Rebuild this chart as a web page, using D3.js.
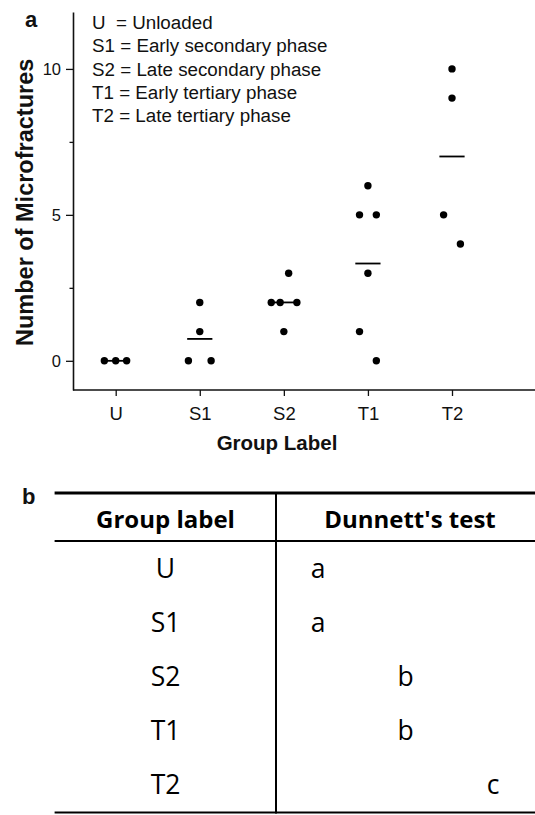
<!DOCTYPE html>
<html>
<head>
<meta charset="utf-8">
<script src="https://cdn.jsdelivr.net/npm/d3@7"></script>
<style>
  html, body { margin: 0; padding: 0; background: #fff; }
  svg { display: block; }
  text { white-space: pre; }
</style>
</head>
<body>
<svg id="chart" width="535" height="815"></svg>
<script>
// ---------------- DATA ----------------
const categories = ["U", "S1", "S2", "T1", "T2"];
const groupValues = [
  [0, 0, 0],
  [2, 1, 0, 0],
  [3, 2, 2, 2, 1],
  [6, 5, 5, 3, 1, 0],
  [10, 9, 5, 4]
];
// horizontal jitter of each point, as a fraction of the category step
const groupJitter = [
  [-0.135, 0, 0.13],
  [0, 0, -0.135, 0.135],
  [0.057, -0.15, -0.044, 0.155, 0],
  [0, -0.1, 0.1, 0, -0.1, 0.1],
  [0, 0, -0.1, 0.1]
];
const yMajorTicks = [0, 5, 10];
const yMinorTicks = [2.5, 7.5];
const legendLines = [
  "U  = Unloaded",
  "S1 = Early secondary phase",
  "S2 = Late secondary phase",
  "T1 = Early tertiary phase",
  "T2 = Late tertiary phase"
];
const yTitle = "Number of Microfractures";
const xTitle = "Group Label";
const tableHeaders = ["Group label", "Dunnett's test"];
const dunnettLetters = ["a", "a", "b", "b", "c"];
const letterLevels = ["a", "b", "c"];

// ---------------- DRAW ----------------
const svg = d3.select("#chart");
const W = 535;
const sans = "'Liberation Sans', Arial, Helvetica, sans-serif";
const tableFont = "'Open Sans', 'Noto Sans', sans-serif";
const ink = "#111";

// Panel a
const axisLeftX = 73, axisTop = 12, axisBottom = 390;
const x = d3.scalePoint().domain(categories).range([115.7, 452]);
const step = x.step();
const y = d3.scaleLinear().domain([-1, 11.95]).range([axisBottom, axisTop]);

const gA = svg.append("g");

// y axis
const yAxis = d3.axisLeft(y).tickValues(yMajorTicks).tickSize(7).tickSizeOuter(0).tickPadding(5)
  .tickFormat(d3.format("d"));
const gy = gA.append("g").attr("transform", `translate(${axisLeftX},0)`).call(yAxis);
gy.select(".domain").attr("stroke", ink).attr("stroke-width", 1.6);
gy.selectAll(".tick line").attr("stroke", ink).attr("stroke-width", 1.3);
gy.selectAll(".tick text").attr("font-family", sans).attr("font-size", 16.5).attr("fill", ink);

const yMinor = d3.axisLeft(y).tickValues(yMinorTicks).tickSize(3.5).tickSizeOuter(0).tickFormat("");
const gym = gA.append("g").attr("transform", `translate(${axisLeftX},0)`).call(yMinor);
gym.select(".domain").remove();
gym.selectAll(".tick line").attr("stroke", ink).attr("stroke-width", 1.3);

// x axis
const xAxis = d3.axisBottom(x).tickSize(6).tickSizeOuter(0).tickPadding(11);
const gx = gA.append("g").attr("transform", `translate(0,${axisBottom})`).call(xAxis);
gx.select(".domain").remove();
gx.selectAll(".tick line").attr("stroke", ink).attr("stroke-width", 1.3);
gx.selectAll(".tick text").attr("font-family", sans).attr("font-size", 18.5).attr("fill", ink);
gA.append("line")
  .attr("x1", axisLeftX).attr("x2", W)
  .attr("y1", axisBottom).attr("y2", axisBottom)
  .attr("stroke", ink).attr("stroke-width", 1.6);

// points
const points = [];
categories.forEach((c, i) => {
  groupValues[i].forEach((v, j) => points.push({ c, v, j: groupJitter[i][j] }));
});
gA.append("g").selectAll("circle").data(points).join("circle")
  .attr("cx", d => x(d.c) + d.j * step)
  .attr("cy", d => y(d.v))
  .attr("r", 3.7)
  .attr("fill", "#000");

// mean lines
const means = categories.map((c, i) => ({ c, m: d3.mean(groupValues[i]) }));
gA.append("g").selectAll("line").data(means).join("line")
  .attr("x1", d => x(d.c) - 0.15 * step)
  .attr("x2", d => x(d.c) + 0.15 * step)
  .attr("y1", d => y(d.m)).attr("y2", d => y(d.m))
  .attr("stroke", "#000").attr("stroke-width", 1.8);

// titles
gA.append("text")
  .attr("transform", `translate(33,${(56.7 + 348) / 2}) rotate(-90)`)
  .attr("text-anchor", "middle")
  .attr("font-family", sans).attr("font-weight", "bold").attr("font-size", 23.5)
  .attr("fill", ink).text(yTitle);
gA.append("text")
  .attr("x", 277).attr("y", 450)
  .attr("text-anchor", "middle")
  .attr("font-family", sans).attr("font-weight", "bold").attr("font-size", 20.5)
  .attr("fill", ink).text(xTitle);
gA.append("text")
  .attr("x", 25).attr("y", 26.7)
  .attr("font-family", sans).attr("font-weight", "bold").attr("font-size", 22)
  .attr("fill", ink).text("a");

// legend
gA.append("g").selectAll("text").data(legendLines).join("text")
  .attr("x", 92)
  .attr("y", (d, i) => 29.3 + i * 23.1)
  .attr("font-family", sans).attr("font-size", 18.8).attr("fill", ink)
  .text(d => d);

// Panel b : table
const gB = svg.append("g");
const tLeft = 54.6, tDiv = 276, tTop = 493, tHeadLine = 541, tBottom = 812.5;
gB.append("text")
  .attr("x", 22).attr("y", 504)
  .attr("font-family", sans).attr("font-weight", "bold").attr("font-size", 22)
  .attr("fill", ink).text("b");

gB.append("line").attr("x1", tLeft).attr("x2", W).attr("y1", tTop).attr("y2", tTop)
  .attr("stroke", "#000").attr("stroke-width", 3.2);
gB.append("line").attr("x1", tLeft).attr("x2", W).attr("y1", tHeadLine).attr("y2", tHeadLine)
  .attr("stroke", "#000").attr("stroke-width", 2);
gB.append("line").attr("x1", tLeft).attr("x2", W).attr("y1", tBottom).attr("y2", tBottom)
  .attr("stroke", "#000").attr("stroke-width", 2);
gB.append("line").attr("x1", tDiv).attr("x2", tDiv).attr("y1", tTop).attr("y2", tBottom + 1)
  .attr("stroke", "#000").attr("stroke-width", 2);

const headerX = [165.5, 410];
gB.append("g").selectAll("text").data(tableHeaders).join("text")
  .attr("x", (d, i) => headerX[i]).attr("y", 528.3)
  .attr("text-anchor", "middle")
  .attr("font-family", tableFont).attr("font-weight", "bold").attr("font-size", 24)
  .attr("fill", "#000").text(d => d);

const rowY = d3.scalePoint().domain(categories).range([577.5, 794]);
const letterX = d3.scalePoint().domain(letterLevels).range([318, 493]);

gB.append("g").selectAll("text").data(categories).join("text")
  .attr("x", 165.5).attr("y", d => rowY(d))
  .attr("text-anchor", "middle")
  .attr("font-family", tableFont).attr("font-size", 26.5)
  .attr("fill", "#000").text(d => d);

gB.append("g").selectAll("text").data(dunnettLetters).join("text")
  .attr("x", d => letterX(d)).attr("y", (d, i) => rowY(categories[i]))
  .attr("text-anchor", "middle")
  .attr("font-family", tableFont).attr("font-size", 26.5)
  .attr("fill", "#000").text(d => d);
</script>
</body>
</html>
